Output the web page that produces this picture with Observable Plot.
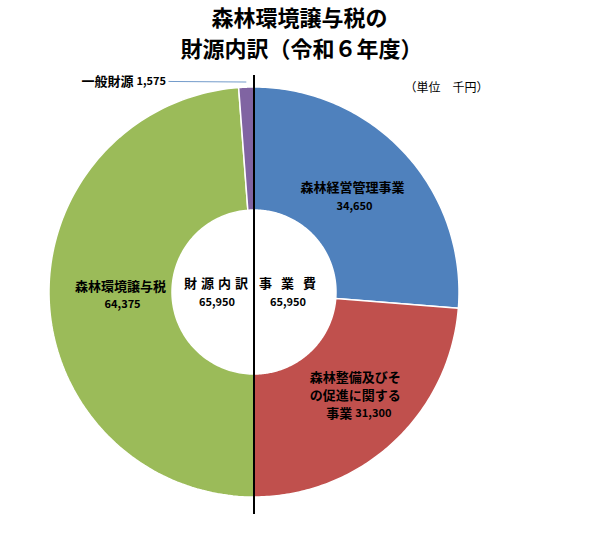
<!DOCTYPE html>
<html>
<head>
<meta charset="utf-8">
<script src="https://cdn.jsdelivr.net/npm/d3@7"></script>
<script src="https://cdn.jsdelivr.net/npm/@observablehq/plot@0.6"></script>
<style>
  body { margin: 0; background: #fff; }
  #chart svg { display: block; }
</style>
</head>
<body>
<div id="chart"></div>
<script>
// ---- data ----
const titleLines = ["森林環境譲与税の", "財源内訳（令和６年度）"];
const unitLabel = "（単位　千円）";
const expenseTitle = "事業費";
const expenseCats = ["森林経営管理事業", "森林整備及びその促進に関する事業"];
const expenseValues = [34650, 31300];
const sourceTitle = "財源内訳";
const sourceCats = ["森林環境譲与税", "一般財源"];
const sourceValues = [64375, 1575];
const expenseColors = ["#4F81BD", "#C0504D"];
const sourceColors = ["#9BBB59", "#8064A2"];

const fmt = d3.format(",");
const W = 602, H = 536;
const cx = 253.5, cy = 291.5, R = 205;
const innerR = 0.40;

// pies: right half for expenses, left half for sources
const rightPie = d3.pie().sort(null).startAngle(0).endAngle(Math.PI)(expenseValues)
  .map((d, i) => ({...d, cat: expenseCats[i], color: expenseColors[i]}));
const leftPie = d3.pie().sort(null).startAngle(Math.PI).endAngle(2 * Math.PI)(sourceValues)
  .map((d, i) => ({...d, cat: sourceCats[i], color: sourceColors[i]}));
const slices = [...rightPie, ...leftPie];

const pts = [];
for (const s of slices) {
  const N = 120;
  const ring = [];
  for (let k = 0; k <= N; k++) {
    const a = s.startAngle + (s.endAngle - s.startAngle) * k / N;
    ring.push({x: Math.sin(a), y: Math.cos(a)});
  }
  for (let k = N; k >= 0; k--) {
    const a = s.startAngle + (s.endAngle - s.startAngle) * k / N;
    ring.push({x: innerR * Math.sin(a), y: innerR * Math.cos(a)});
  }
  ring.push(ring[0]);
  for (const p of ring) pts.push({...p, cat: s.cat, color: s.color});
}

const centroid = (s, r = 0.7) => {
  const a = (s.startAngle + s.endAngle) / 2;
  return {x: r * Math.sin(a), y: r * Math.cos(a)};
};
const blue = rightPie[0], red = rightPie[1], green = leftPie[0], purple = leftPie[1];

const font = "'Noto Sans CJK JP', 'Noto Sans', sans-serif";
const bold = {fontWeight: "bold", fill: "#000"};
const cxy = {x: d => centroid(d).x, y: d => centroid(d).y};

const chart = Plot.plot({
  width: W, height: H,
  margin: 0,
  x: {domain: [-cx / R, (W - cx) / R], axis: null},
  y: {domain: [-(H - cy) / R, cy / R], axis: null},
  style: {fontFamily: font, background: "#fff"},
  marks: [
    Plot.line(pts, {x: "x", y: "y", z: "cat", fill: "color", stroke: "#fff", strokeWidth: 1.5, curve: "linear"}),
    // divider
    Plot.ruleX([0], {y1: (291.5 - 75) / R, y2: -(514 - 291.5) / R, stroke: "#000", strokeWidth: 2}),
    // leader for small slice
    Plot.link([purple], {
      x1: d => centroid(d, 1.0).x, y1: d => centroid(d, 1.0).y + 0.025,
      x2: -0.417, y2: 1.027, stroke: "#4F81BD", strokeWidth: 0.8
    }),
    // title
    Plot.text([titleLines[0]], {frameAnchor: "top", dx: -2, dy: 10, fontSize: 22, ...bold}),
    Plot.text([titleLines[1]], {frameAnchor: "top", dx: 0, dy: 41, fontSize: 22, ...bold}),
    Plot.text([unitLabel], {frameAnchor: "top-right", dx: -114, dy: 83, fontSize: 12, fill: "#000"}),
    // center labels
    Plot.text([sourceTitle], {x: 0, y: 0, dx: -36, dy: -8, fontSize: 13, className: "ls-src", ...bold}),
    Plot.text([sourceValues.reduce((a, b) => a + b)], {x: 0, y: 0, dx: -37, dy: 10, text: d => fmt(d), fontSize: 11, ...bold}),
    Plot.text([expenseTitle], {x: 0, y: 0, dx: 38, dy: -8, fontSize: 13, className: "ls-exp", ...bold}),
    Plot.text([expenseValues.reduce((a, b) => a + b)], {x: 0, y: 0, dx: 34, dy: 10, text: d => fmt(d), fontSize: 11, ...bold}),
    // blue
    Plot.text([blue], {...cxy, text: d => d.cat, dx: -7, dy: -7, fontSize: 13, ...bold}),
    Plot.text([blue], {...cxy, text: d => fmt(d.value), dx: -5, dy: 12, fontSize: 11, ...bold}),
    // red
    Plot.text([red], {...cxy, text: d => d.cat.slice(0, 7) + "\n" + d.cat.slice(7, 14), dx: 4, dy: -12, lineHeight: 1.4, fontSize: 13, ...bold}),
    Plot.text([red], {...cxy, text: d => d.cat.slice(14), textAnchor: "end", dx: 1, dy: 16, fontSize: 13, ...bold}),
    Plot.text([red], {...cxy, text: d => fmt(d.value), textAnchor: "start", dx: 4, dy: 16, fontSize: 11, ...bold}),
    // green
    Plot.text([green], {...cxy, text: d => d.cat, dx: 10, dy: -11, fontSize: 13, ...bold}),
    Plot.text([green], {...cxy, text: d => fmt(d.value), dx: 12, dy: 7, fontSize: 11, ...bold}),
    // purple (outside)
    Plot.text([purple], {x: -0.417, y: 1.027, text: d => d.cat, textAnchor: "end", dx: -35, dy: 0, fontSize: 13, ...bold}),
    Plot.text([purple], {x: -0.417, y: 1.027, text: d => fmt(d.value), textAnchor: "start", dx: -32, dy: 0, fontSize: 11, ...bold})
  ]
});
d3.select(chart).selectAll(".ls-src text").attr("letter-spacing", "4px");
d3.select(chart).selectAll(".ls-exp text").attr("letter-spacing", "9px");
document.getElementById("chart").append(chart);
</script>
</body>
</html>
